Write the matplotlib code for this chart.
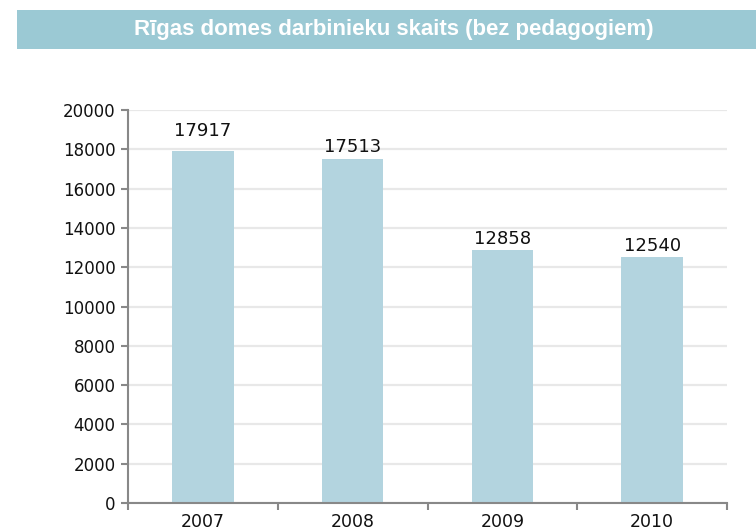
import matplotlib
matplotlib.use("Agg")
import matplotlib.pyplot as plt
from matplotlib.patches import Rectangle

years = ["2007", "2008", "2009", "2010"]
values = [17917, 17513, 12858, 12540]
yticks = [0, 2000, 4000, 6000, 8000, 10000, 12000, 14000, 16000, 18000, 20000]
title = "Rīgas domes darbinieku skaits (bez pedagogiem)"

# label gap above each bar, in points (layout only)
label_gap = [8, 2, 1.5, 1.5]

plt.rcParams['font.family'] = ['DejaVu Sans']

fig = plt.figure(figsize=(7.56, 5.30), dpi=100)
# title banner
fig.patches.append(Rectangle((17/756, 1 - 49/530), 1 - 17/756, 39/530,
                             transform=fig.transFigure, facecolor="#9bc9d4",
                             edgecolor="none", zorder=0))
fig.text(0.5215, 1 - 30/530, title, ha="center", va="center", color="white",
         fontsize=16, fontweight="bold",
         family=['Liberation Sans', 'DejaVu Sans'])

ax = fig.add_axes([128/756, 27/530, (727 - 128)/756, (503 - 110)/530])
x = list(range(len(years)))
ax.bar(x, values, width=0.41, color="#b3d4df", zorder=2)
for xi, v, g in zip(x, values, label_gap):
    ax.annotate(str(v), (xi, v), xytext=(0, g), textcoords="offset points",
                ha="center", va="bottom", fontsize=13, color="#111111")

ax.set_ylim(0, 20000)
ax.set_xlim(-0.5, len(years) - 0.5)
ax.set_yticks(yticks)
ax.set_yticklabels([str(t) for t in yticks], fontsize=12, color="#111111")
ax.yaxis.grid(True, color="#e8e8e8", linewidth=1.6, zorder=0)
ax.set_axisbelow(True)

# category boundary ticks
ax.set_xticks([i - 0.5 for i in range(len(years) + 1)])
ax.set_xticklabels([])
ax.set_xticks(x, minor=True)
ax.set_xticklabels(years, minor=True, fontsize=12.5, color="#111111")
ax.tick_params(axis="x", which="minor", length=0, pad=7)
ax.tick_params(axis="x", which="major", length=5, width=1.5, color="#888888")
ax.tick_params(axis="y", length=5, width=1.5, color="#888888", pad=4)

for s in ["top", "right"]:
    ax.spines[s].set_visible(False)
for s in ["left", "bottom"]:
    ax.spines[s].set_color("#888888")
    ax.spines[s].set_linewidth(1.5)

fig.savefig("out.png", dpi=100)
